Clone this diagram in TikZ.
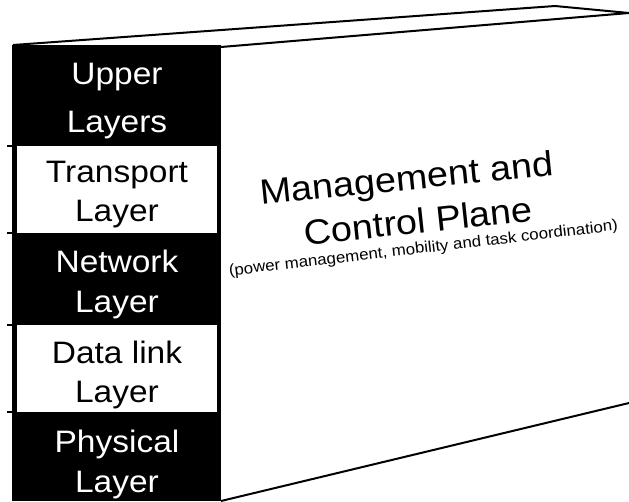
\documentclass[tikz,border=0pt]{standalone}
\usepackage{fontspec}
\usepackage{graphicx}
\setmainfont{Liberation Sans}
% slightly widened lettering
\newcommand\widetext[1]{\scalebox{1.08}[1]{#1}}
\begin{document}
\begin{tikzpicture}[x=1pt,y=-1pt,
  edge/.style={line width=2pt, line join=round},
  tick/.style={line width=1.5pt},
  lbl/.style={align=center, inner sep=0pt, anchor=base},
  onblack/.style={lbl, text=white},
  onwhite/.style={lbl, text=black},
  title/.style={inner sep=0pt, anchor=base, font=\fontsize{35}{40}\selectfont},
  note/.style={inner sep=0pt, anchor=base, font=\fontsize{15.6}{18}\selectfont}]
\useasboundingbox (0,0) rectangle (629,501);

% corner points of the slab
\coordinate (tl) at (13,45);
\coordinate (tr) at (221,47);
\coordinate (peak) at (555,6);
\coordinate (far) at (629,13);
\coordinate (br) at (221,501);
\coordinate (farlow) at (629,403);

% top face and lower edge of the side plane
\draw[edge] (tl) -- (peak) -- (far) -- (tr);
\draw[edge] (br) -- (farlow);

% layer column
\fill[black] (12,45) rectangle (221,501);
\fill[white] (17,146) rectangle (217,233);
\fill[white] (17,325) rectangle (217,412);
\foreach \yy in {146,233,325,412} \draw[tick] (7,\yy) -- (12,\yy);

% labels are anchored at the baseline of their last line
\node[onblack, font=\fontsize{31}{48}\selectfont] (upper) at (117,132) {\widetext{Upper}\\\widetext{Layers}};
\node[onwhite, font=\fontsize{31}{38.5}\selectfont] (transport) at (117,221) {\widetext{Transport}\\\widetext{Layer}};
\node[onblack, font=\fontsize{31}{40}\selectfont] (network) at (117,312) {\widetext{Network}\\\widetext{Layer}};
\node[onwhite, font=\fontsize{31}{39}\selectfont] (datalink) at (117,402) {\widetext{Data link}\\\widetext{Layer}};
\node[onblack, font=\fontsize{31}{40}\selectfont] (physical) at (117,492) {\widetext{Physical}\\\widetext{Layer}};

% management plane text
\node[title, rotate=5.8] (mgmt) at (408,190) {\widetext{Management and}};
\node[title, rotate=6.1] (ctrl) at (419.5,233) {\widetext{Control Plane}};
\node[note, rotate=6.7] (tasks) at (424,253) {\widetext{(power management, mobility and task coordination)}};
\end{tikzpicture}
\end{document}
